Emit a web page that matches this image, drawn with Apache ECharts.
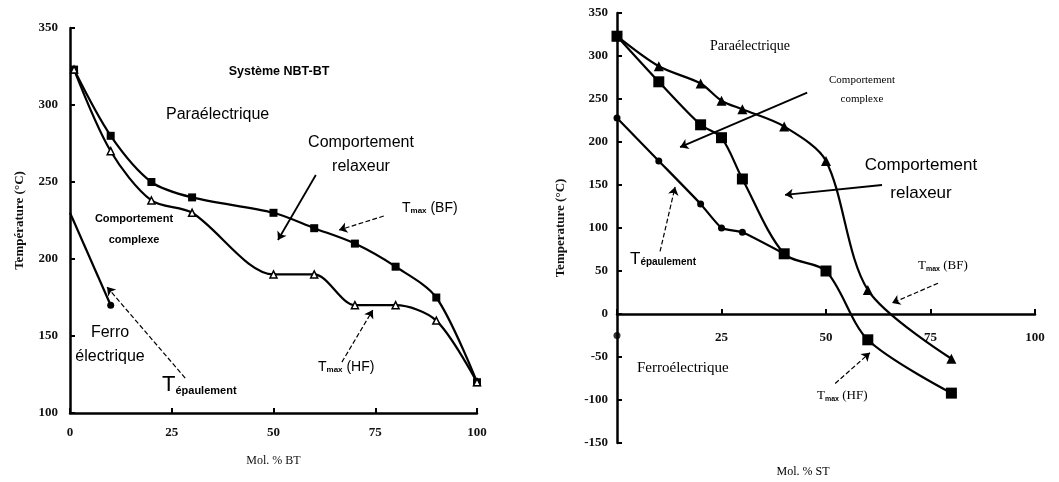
<!DOCTYPE html>
<html>
<head>
<meta charset="utf-8">
<script src="https://cdn.jsdelivr.net/npm/echarts@6/dist/echarts.min.js"></script>
<style>
  html, body { margin:0; padding:0; background:#fff; }
  #main { width:1059px; height:482px; }
</style>
</head>
<body>
<div id="main"></div>
<script>
// Système NBT-BT (gauche)
var nbtX    = [1, 10, 20, 30, 50, 60, 70, 80, 90, 100];
var nbtBF   = [323, 280, 250, 240, 230, 220, 210, 195, 175, 120];
var nbtHF   = [323, 270, 238, 230, 190, 190, 170, 170, 160, 120];
var nbtEpX  = [0, 10];
var nbtEp   = [230, 170];

// Système NBT-ST (droite)
var nstX    = [0, 10, 20, 25, 30, 40, 50, 60, 80];
var nstHF   = [323, 270, 220, 205, 157, 70, 50, -30, -92];
var nstBF   = [323, 288, 268, 248, 238, 218, 178, 28, -52];
var nstEpX  = [0, 10, 20, 25, 30, 40];
var nstEp   = [228, 178, 128, 100, 95, 70];
var nstExtra = [[0, -25]];

function pairs(xs, ys) {
    return ys.map(function (v, i) { return [xs[i], v]; });
}

var serif = 'Liberation Serif';
var sans = 'Liberation Sans';

function axisBase(extra) {
    var a = {
        axisLine: { onZero: false, lineStyle: { color: '#000', width: 2.5 } },
        axisTick: { inside: true, length: 5, lineStyle: { color: '#000', width: 2 } },
        axisLabel: { color: '#111', fontFamily: serif, fontWeight: 'bold', fontSize: 13 },
        splitLine: { show: false }
    };
    for (var k in extra) a[k] = extra[k];
    return a;
}

function arrow(x1, y1, x2, y2, dashed) {
    return [
        { coord: [x1, y1], symbol: 'none', lineStyle: { type: dashed ? 'dashed' : 'solid', width: dashed ? 1.2 : 1.8, color: '#000' } },
        { coord: [x2, y2], symbol: 'arrow' }
    ];
}

var lineCommon = { type: 'line', smooth: 0.3, lineStyle: { color: '#000', width: 2.2 }, z: 3 };
function line(extra) {
    var s = {};
    for (var k in lineCommon) s[k] = lineCommon[k];
    for (var k2 in extra) s[k2] = extra[k2];
    return s;
}

function sub(x, y, big, small, rest, bigSize, smallSize, fam, align) {
    return {
        type: 'text', x: x, y: y, z: 10,
        style: {
            text: '{t|' + big + '}{s|' + small + '}' + (rest ? '{t|' + rest + '}' : ''),
            align: align || 'left', verticalAlign: 'middle',
            rich: {
                t: { fontSize: bigSize, fontFamily: fam, fill: '#000', verticalAlign: 'middle' },
                s: { fontSize: smallSize, fontFamily: sans, fontWeight: 'bold', fill: '#000', verticalAlign: 'bottom' }
            }
        }
    };
}
function txt(x, y, s, size, fam, weight, align) {
    return {
        type: 'text', x: x, y: y, z: 10,
        style: { text: s, fontSize: size, fontFamily: fam, fontWeight: weight || 'normal', fill: '#000',
                 align: align || 'left', verticalAlign: 'middle' }
    };
}

var myChart = echarts.init(document.getElementById('main'));
var option = {
    animation: false,
    backgroundColor: '#fff',
    grid: [
        { left: 70, top: 28, width: 407, height: 385 },
        { left: 617, top: 13, width: 418, height: 430 }
    ],
    xAxis: [
        axisBase({ gridIndex: 0, type: 'value', min: 0, max: 100, interval: 25,
            name: 'Mol. % BT', nameLocation: 'middle', nameGap: 42,
            nameTextStyle: { fontFamily: serif, fontSize: 12, color: '#111' },
            axisLabel: { color: '#111', fontFamily: serif, fontWeight: 'bold', fontSize: 13, margin: 13 } }),
        axisBase({ gridIndex: 1, type: 'value', min: 0, max: 100, interval: 25,
            position: 'bottom', offset: -129,
            axisLabel: { color: '#111', fontFamily: serif, fontWeight: 'bold', fontSize: 13, margin: 17,
                formatter: function (v) { return v === 0 ? '' : v; } } })
    ],
    yAxis: [
        axisBase({ gridIndex: 0, type: 'value', min: 100, max: 350, interval: 50,
            name: 'Température (°C)', nameLocation: 'middle', nameGap: 44,
            nameTextStyle: { fontFamily: serif, fontSize: 13, fontWeight: 'bold', color: '#111' },
            axisLabel: { color: '#111', fontFamily: serif, fontWeight: 'bold', fontSize: 13, margin: 12 } }),
        axisBase({ gridIndex: 1, type: 'value', min: -150, max: 350, interval: 50,
            name: 'Temperature (°C)', nameLocation: 'middle', nameGap: 50,
            nameTextStyle: { fontFamily: serif, fontSize: 13, fontWeight: 'bold', color: '#111' },
            axisLabel: { color: '#111', fontFamily: serif, fontWeight: 'bold', fontSize: 13, margin: 9 } })
    ],
    series: [
        line({ name: 'Tmax BF (NBT-BT)', xAxisIndex: 0, yAxisIndex: 0, data: pairs(nbtX, nbtBF),
            symbol: 'rect', symbolSize: 8, itemStyle: { color: '#000' },
            markLine: { silent: true, symbolSize: 8, label: { show: false }, data: [
                arrow(60.4, 254.5, 51.1, 212.3, false),
                arrow(77.1, 227.9, 66.1, 218.8, true),
                arrow(28.3, 122.7, 9.1, 181.8, true),
                arrow(66.8, 133, 74.4, 166.9, true)
            ] } }),
        line({ name: 'Tmax HF (NBT-BT)', xAxisIndex: 0, yAxisIndex: 0, data: pairs(nbtX, nbtHF),
            symbol: 'triangle', symbolSize: 7, showAllSymbol: true,
            itemStyle: { color: '#fff', borderColor: '#000', borderWidth: 1.5 } }),
        line({ name: 'Tépaulement (NBT-BT)', xAxisIndex: 0, yAxisIndex: 0, data: pairs(nbtEpX, nbtEp),
            smooth: false, symbol: 'circle',
            symbolSize: function (v, p) { return p.dataIndex === 0 ? 0 : 7; },
            itemStyle: { color: '#000' } }),

        line({ name: 'Tmax HF (NBT-ST)', xAxisIndex: 1, yAxisIndex: 1, data: pairs(nstX, nstHF),
            symbol: 'rect', symbolSize: 11, itemStyle: { color: '#000' },
            markLine: { silent: true, symbolSize: 8, label: { show: false }, data: [
                arrow(45.5, 257.5, 15.1, 194, false),
                arrow(63.4, 150, 40.2, 138.6, false),
                arrow(10.3, 72.7, 13.9, 147.8, true),
                arrow(76.8, 35.8, 65.8, 12.7, true),
                arrow(52.2, -80.8, 60.5, -45, true)
            ] } }),
        line({ name: 'Tmax BF (NBT-ST)', xAxisIndex: 1, yAxisIndex: 1, data: pairs(nstX, nstBF),
            symbol: 'triangle', symbolSize: 10, itemStyle: { color: '#000' } }),
        line({ name: 'Tépaulement (NBT-ST)', xAxisIndex: 1, yAxisIndex: 1, data: pairs(nstEpX, nstEp),
            smooth: 0.15, symbol: 'circle', symbolSize: 7, itemStyle: { color: '#000' } }),
        { type: 'scatter', xAxisIndex: 1, yAxisIndex: 1, data: nstExtra, symbolSize: 7,
            itemStyle: { color: '#000' }, z: 4 }
    ],
    graphic: [
        // gauche
        txt(279, 72, 'Système NBT-BT', 12.5, sans, 'bold', 'center'),
        txt(166, 115, 'Paraélectrique', 16, sans),
        txt(361, 143, 'Comportement', 16, sans, 'normal', 'center'),
        txt(361, 167, 'relaxeur', 16, sans, 'normal', 'center'),
        sub(402, 208, 'T', 'max', ' (BF)', 14, 8, sans),
        txt(134, 219, 'Comportement', 11, sans, 'bold', 'center'),
        txt(134, 240, 'complexe', 11, sans, 'bold', 'center'),
        txt(110, 333, 'Ferro', 16, sans, 'normal', 'center'),
        txt(110, 357, 'électrique', 16, sans, 'normal', 'center'),
        sub(162, 385, 'T', 'épaulement', '', 22, 11, sans),
        sub(318, 367, 'T', 'max', ' (HF)', 14, 8, sans),
        // droite
        txt(710, 46, 'Paraélectrique', 14, serif),
        txt(862, 80, 'Comportement', 11, serif, 'normal', 'center'),
        txt(862, 99, 'complexe', 11, serif, 'normal', 'center'),
        txt(921, 165, 'Comportement', 17, sans, 'normal', 'center'),
        txt(921, 193, 'relaxeur', 17, sans, 'normal', 'center'),
        sub(630, 259, 'T', 'épaulement', '', 17, 10, sans),
        sub(918, 266, 'T', 'max', ' (BF)', 13, 7, serif),
        sub(817, 396, 'T', 'max', ' (HF)', 13, 7, serif),
        txt(637, 368, 'Ferroélectrique', 15, serif),
        txt(803, 472, 'Mol. % ST', 12, serif, 'normal', 'center')
    ]
};
myChart.setOption(option);
</script>
</body>
</html>
